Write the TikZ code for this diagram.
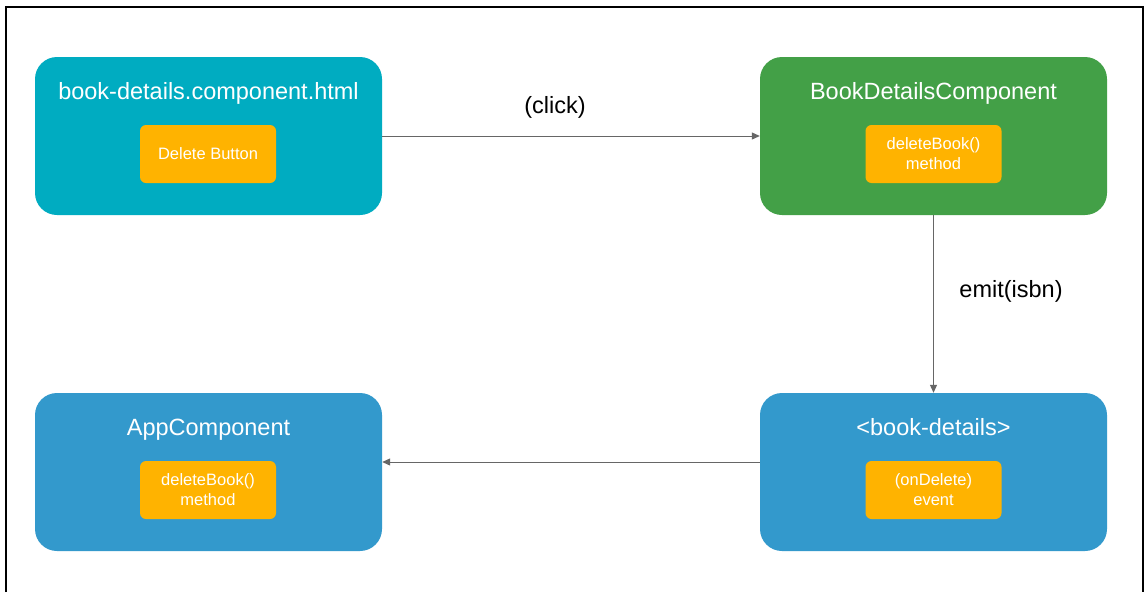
\documentclass[tikz,border=0pt]{standalone}
\usepackage{fontspec}
\setmainfont{Liberation Sans}
\usetikzlibrary{arrows.meta}
\definecolor{cyanbox}{HTML}{00ACC1}
\definecolor{greenbox}{HTML}{43A047}
\definecolor{bluebox}{HTML}{3399CC}
\definecolor{orangebox}{HTML}{FFB300}
\definecolor{linegray}{HTML}{666666}
\begin{document}
\begin{tikzpicture}[x=1pt,y=-1pt,
  bigbox/.style={rounded corners=22pt, minimum width=347pt, minimum height=158pt, inner sep=0pt},
  innerbox/.style={fill=orangebox, rounded corners=6pt, minimum width=136pt, minimum height=58pt, inner sep=0pt, text=white, font=\fontsize{16.5}{20}\selectfont, align=center},
  titletext/.style={text=white, font=\fontsize{23.5}{28}\selectfont, inner sep=0pt, anchor=base},
  lbl/.style={text=black, font=\fontsize{23.5}{28}\selectfont, inner sep=0pt},
  conn/.style={draw=linegray, line width=1pt, -{Triangle[length=8pt,width=7pt]}}]
\useasboundingbox (0,0) rectangle (1145,592);
\fill[white] (0,0) rectangle (1145,592);
\draw[line width=2.5pt] (6,592) -- (6,7) -- (1143,7) -- (1143,592);

\node[bigbox, fill=cyanbox] (html) at (208.5,136) {};
\node[bigbox, fill=greenbox] (bdc) at (933.5,136) {};
\node[bigbox, fill=bluebox] (app) at (208.5,472) {};
\node[bigbox, fill=bluebox] (tag) at (933.5,472) {};

\node[titletext] (t1) at (208.5,99) {book-details.component.html};
\node[titletext] (t2) at (933.5,99) {BookDetailsComponent};
\node[titletext] (t3) at (208.5,435) {AppComponent};
\node[titletext] (t4) at (933.5,435) {<book-details>};

\node[innerbox] (i1) at (208,154) {Delete Button};
\node[innerbox] (i2) at (933.5,154) {deleteBook()\\method};
\node[innerbox] (i3) at (208,490) {deleteBook()\\method};
\node[innerbox] (i4) at (933.5,490) {(onDelete)\\event};

\draw[conn] (html.east) -- (bdc.west);
\draw[conn] (bdc.south) -- (tag.north);
\draw[conn] ([yshift=10pt]tag.west) -- ([yshift=10pt]app.east);

\node[lbl] (l1) at (555,107) {(click)};
\node[lbl] (l2) at (1011,291) {emit(isbn)};
\end{tikzpicture}
\end{document}
